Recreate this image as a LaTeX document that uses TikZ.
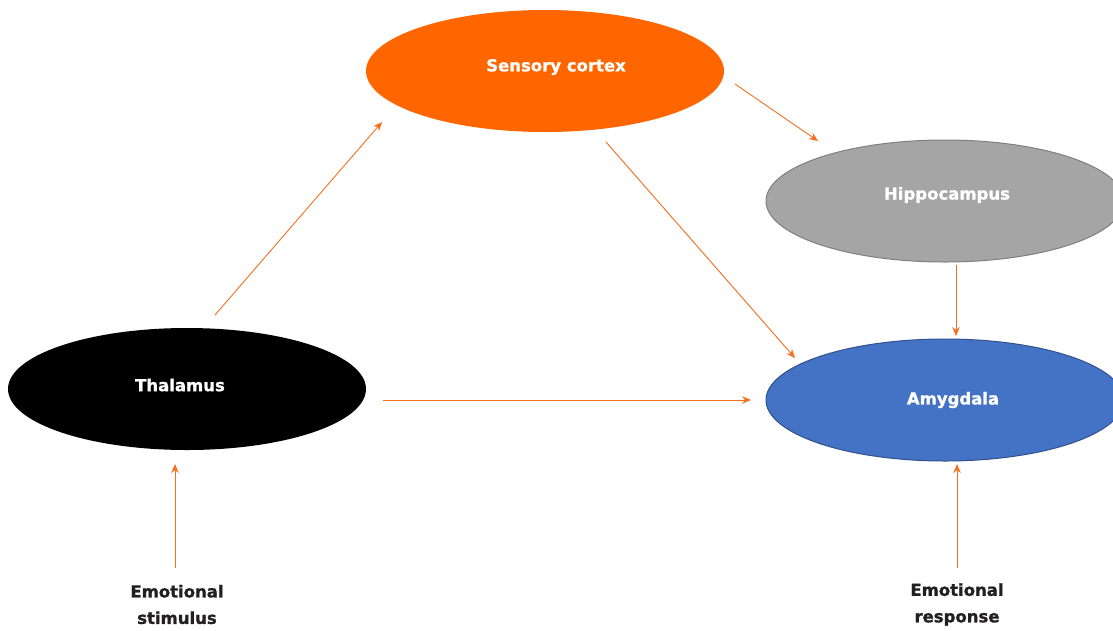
\documentclass[tikz,border=0pt]{standalone}
\usepackage{fontspec}
\setmainfont{DejaVu Sans}[BoldFeatures={FakeBold=1.2}]
\usetikzlibrary{shapes.geometric,arrows.meta}
\definecolor{sensc}{HTML}{FF6600}
\definecolor{hipf}{HTML}{A5A5A5}
\definecolor{hipd}{HTML}{7F7F7F}
\definecolor{amyf}{HTML}{4472C4}
\definecolor{amyd}{HTML}{2F528F}
\definecolor{arrc}{RGB}{242,112,32}
\definecolor{txtc}{HTML}{231F20}
\begin{document}
\begin{tikzpicture}[x=1pt,y=-1pt,
  blob/.style={ellipse,minimum width=358pt,minimum height=122pt,inner sep=0pt},
  lbl/.style={font=\fontsize{16.5}{20}\selectfont\bfseries,text=white},
  foot/.style={font=\fontsize{16.5}{26.5}\selectfont\bfseries,text=txtc,align=center},
  arr/.style={draw=arrc,line width=0.9pt,-{Stealth[length=9pt,width=7.5pt]}}]
\useasboundingbox (0,0) rectangle (1113,630);
\clip (0,0) rectangle (1113,630);
\node[blob,fill=sensc] (sens) at (545,71) {};
\node[lbl] (senst) at (556,67) {Sensory cortex};
\node[blob,fill=hipf,draw=hipd,line width=1pt] (hip) at (945,201) {};
\node[lbl] (hipt) at (947,195) {Hippocampus};
\node[blob,fill=black] (thal) at (187,389) {};
\node[lbl] (thalt) at (180,385) {Thalamus};
\node[blob,fill=amyf,draw=amyd,line width=1pt] (amy) at (945,400) {};
\node[lbl] (amyt) at (953,400) {Amygdala};
\node[foot] (stim) at (177,604.5) {Emotional\\stimulus};
\node[foot] (resp) at (957,604.5) {Emotional\\response};
% connector end points
\coordinate (t1) at (215,315); \coordinate (s1) at (382,122);
\coordinate (s2) at (735,84);  \coordinate (h2) at (818,141);
\coordinate (s3) at (606,142); \coordinate (a3) at (795,358);
\coordinate (h4) at (956,265); \coordinate (a4) at (956,336);
\coordinate (t5) at (383,400); \coordinate (a5) at (751,400);
\coordinate (st6) at (175,568); \coordinate (t6) at (175,464);
\coordinate (r7) at (957,568); \coordinate (a7) at (957,464);
\draw[arr] (t1) -- (s1);
\draw[arr] (s2) -- (h2);
\draw[arr] (s3) -- (a3);
\draw[arr] (h4) -- (a4);
\draw[arr] (t5) -- (a5);
\draw[arr] (st6) -- (t6);
\draw[arr] (r7) -- (a7);
\end{tikzpicture}
\end{document}
